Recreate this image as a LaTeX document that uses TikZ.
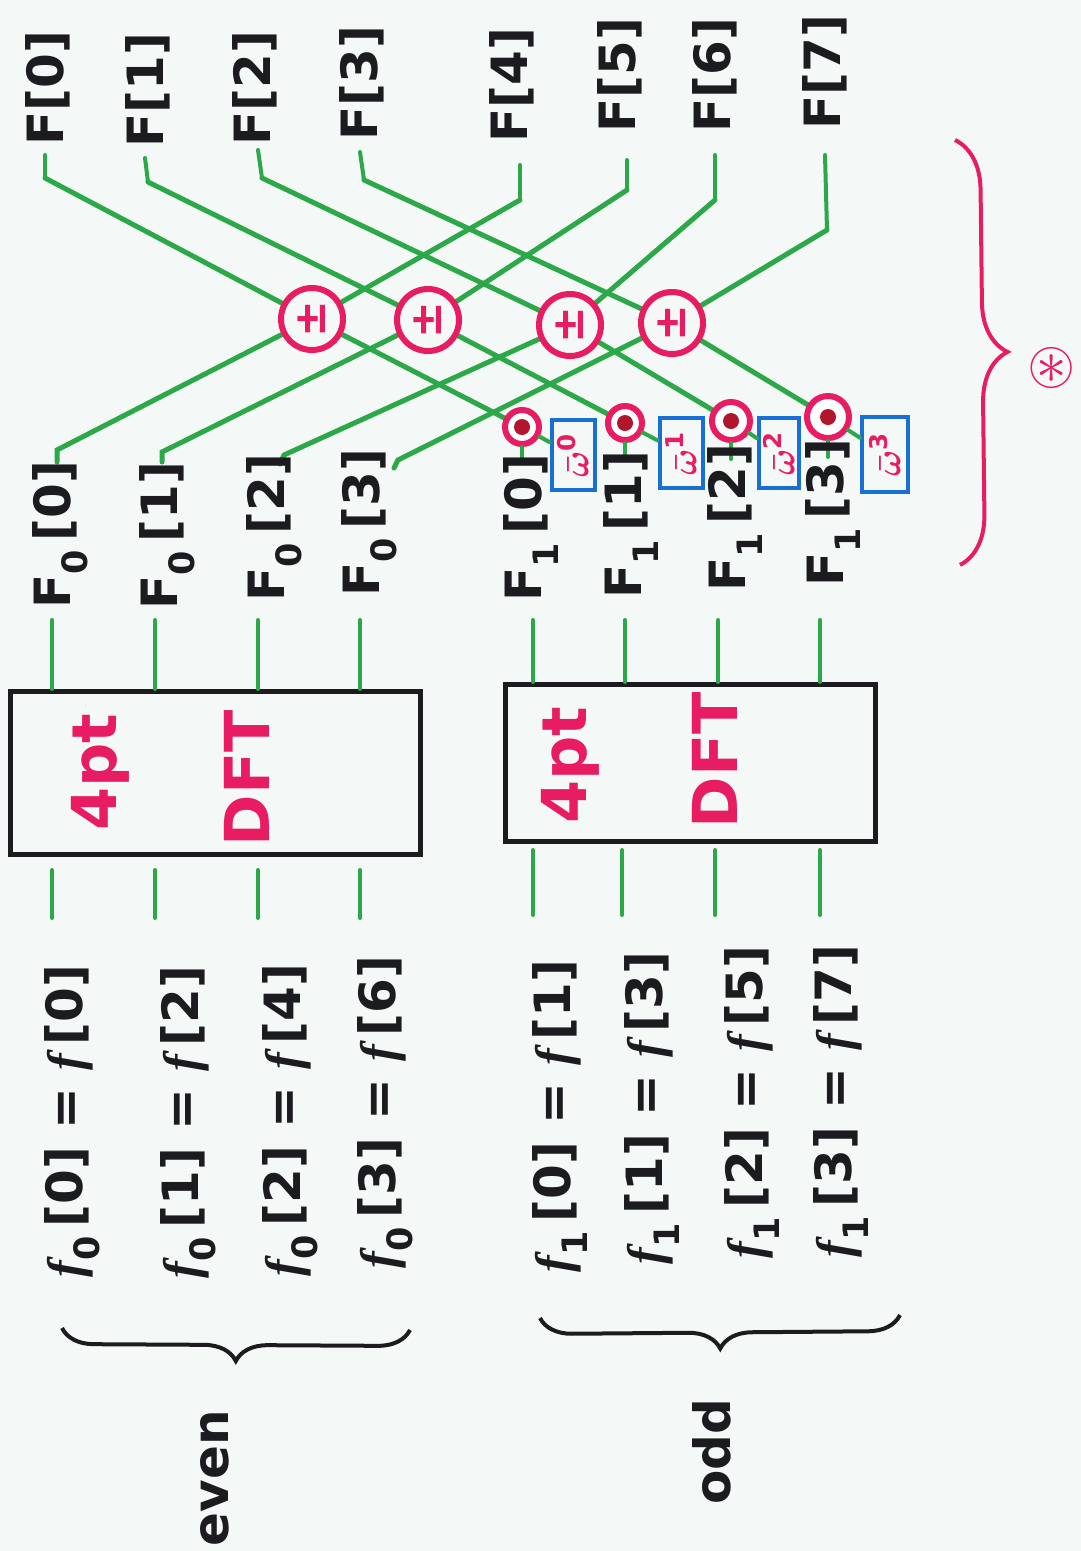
\documentclass[tikz,border=0pt]{standalone}
\usepackage{amssymb}
\usepackage{amsmath}
\usepackage{graphicx}
\usepackage{fontspec}
\setmainfont{DejaVu Sans}
\newfontfamily\fitfont{Liberation Serif}
\usetikzlibrary{decorations.pathreplacing}
\definecolor{bg}{RGB}{244,249,247}
\definecolor{ink}{RGB}{28,28,32}
\definecolor{mgreen}{RGB}{44,168,72}
\definecolor{mpink}{RGB}{232,28,98}
\definecolor{mblue}{RGB}{24,112,212}
\definecolor{mdot}{RGB}{178,22,44}
\newcommand{\ffx}{{\fitfont\bfseries\itshape f}}
\newcommand{\lblsize}{\fontsize{50}{60}\selectfont\bfseries}
\newcommand{\wbar}[1]{\scalebox{3.5}{$\boldsymbol{\bar{\omega}}^{\mathbf{#1}}$}}
\tikzset{
  lbl/.style={rotate=90, font=\lblsize, text=ink, inner sep=0pt},
  gline/.style={draw=mgreen, line width=5pt, line cap=round},
  gstub/.style={draw=mgreen, line width=4pt, line cap=round},
  pmnode/.style={circle, draw=mpink, line width=6pt, fill=bg, minimum size=62pt, inner sep=0pt, rotate=90, text=mpink, font=\fontsize{44}{50}\selectfont\bfseries},
  twnode/.style={circle, draw=mpink, line width=6pt, fill=white, minimum size=34pt, inner sep=0pt},
  wbox/.style={draw=mblue, line width=4pt, rotate=90, minimum width=70pt, minimum height=43pt, inner sep=0pt, text=mpink},
  dftbox/.style={draw=ink, line width=5pt, inner sep=0pt},
  dfttext/.style={rotate=90, text=mpink, font=\fontsize{62}{70}\selectfont\bfseries, inner sep=0pt},
  inklbl/.style={rotate=90, font=\fontsize{50}{60}\selectfont\bfseries, text=ink, inner sep=0pt},
  bbrace/.style={draw=ink, line width=4pt, decorate, decoration={brace, amplitude=32pt, mirror}},
  pbrace/.style={draw=mpink, line width=4pt, decorate, decoration={brace, amplitude=50pt}},
}
\begin{document}
\begin{tikzpicture}[x=1pt,y=-1pt]
\useasboundingbox (0,0) rectangle (1081,1551);
\fill[bg] (0,0) rectangle (1081,1551);

% ---------- output labels F[k]
\node[lbl] (F0) at (48,88) {F[0]};
\node[lbl] (F1) at (148,90) {F[1]};
\node[lbl] (F2) at (255,88) {F[2]};
\node[lbl] (F3) at (362,83) {F[3]};
\node[lbl] (F4) at (512,85) {F[4]};
\node[lbl] (F5) at (620,75) {F[5]};
\node[lbl] (F6) at (715,75) {F[6]};
\node[lbl] (F7) at (825,72) {F[7]};

% stub coordinates under F[k]
\coordinate (sT0) at (45,155);  \coordinate (eT0) at (45,178);
\coordinate (sT1) at (145,158); \coordinate (eT1) at (148,182);
\coordinate (sT2) at (258,150); \coordinate (eT2) at (262,178);
\coordinate (sT3) at (360,152); \coordinate (eT3) at (364,180);
\coordinate (sT4) at (520,165); \coordinate (eT4) at (520,200);
\coordinate (sT5) at (627,160); \coordinate (eT5) at (627,190);
\coordinate (sT6) at (715,155); \coordinate (eT6) at (715,200);
\coordinate (sT7) at (825,155); \coordinate (eT7) at (827,230);

% butterfly centres and twiddle circles
\coordinate (P1c) at (312,319);
\coordinate (P2c) at (428,320);
\coordinate (P3c) at (570,325);
\coordinate (P4c) at (672,323);
\coordinate (T0c) at (522,427);
\coordinate (T1c) at (625,423);
\coordinate (T2c) at (731,421);
\coordinate (T3c) at (828,417);

% ends at F0 labels
\coordinate (eM0) at (57,450);  \coordinate (hM0) at (57,462);
\coordinate (eM1) at (162,452); \coordinate (hM1) at (162,462);
\coordinate (eM2) at (284,455); \coordinate (hM2) at (280,464);
\coordinate (eM3) at (398,460); \coordinate (hM3) at (394,468);

% stubs
\foreach \k in {0,...,7} { \draw[gstub] (sT\k) -- (eT\k); }

% butterfly lines
\draw[gline] (eT0) -- (P1c) -- (T0c);
\draw[gline] (eT4) -- (P1c) -- (eM0) -- (hM0);
\draw[gline] (eT1) -- (P2c) -- (T1c);
\draw[gline] (eT5) -- (P2c) -- (eM1) -- (hM1);
\draw[gline] (eT2) -- (P3c) -- (T2c);
\draw[gline] (eT6) -- (P3c) -- (eM2) -- (hM2);
\draw[gline] (eT3) -- (P4c) -- (T3c);
\draw[gline] (eT7) -- (P4c) -- (eM3) -- (hM3);

% plus-minus circles
\node[pmnode] (P1) at (P1c) {±};
\node[pmnode] (P2) at (P2c) {±};
\node[pmnode] (P3) at (P3c) {±};
\node[pmnode] (P4) at (P4c) {±};

% twiddle boxes
\node[wbox] (W0) at (573,455) {\wbar{0}};
\node[wbox] (W1) at (681,453) {\wbar{1}};
\node[wbox, minimum height=40pt] (W2) at (779,453) {\wbar{2}};
\node[wbox, minimum height=46pt, minimum width=75pt] (W3) at (885,454) {\wbar{3}};

% twiddle circles
\node[twnode] (T0) at (T0c) {};
\node[twnode] (T1) at (T1c) {};
\node[twnode, minimum size=38pt] (T2) at (T2c) {};
\node[twnode, minimum size=42pt] (T3) at (T3c) {};
\foreach \k in {0,...,3} {
  \fill[mdot] (T\k c) circle (8pt);
  \draw[gstub] (T\k.south) -- ++(0,16);
  \draw[gstub] (T\k) -- (W\k);
}

% F0 and F1 labels
\node[lbl] (G0) at (60,535) {F\textsubscript{0}\,[0]};
\node[lbl] (G1) at (167,536) {F\textsubscript{0}\,[1]};
\node[lbl] (G2) at (274,528) {F\textsubscript{0}\,[2]};
\node[lbl] (G3) at (369,523) {F\textsubscript{0}\,[3]};
\node[lbl] (H0) at (531,528) {F\textsubscript{1}\,[0]};
\node[lbl] (H1) at (631,525) {F\textsubscript{1}\,[1]};
\node[lbl] (H2) at (735,518) {F\textsubscript{1}\,[2]};
\node[lbl] (H3) at (833,513) {F\textsubscript{1}\,[3]};

% DFT boxes
\node[dftbox, minimum width=410pt, minimum height=163pt] (B1) at (215,773) {};
\node[dftbox, minimum width=370pt, minimum height=157pt] (B2) at (690,763) {};
\node[dfttext] (B1a) at (100,772) {4pt};
\node[dfttext] (B1b) at (247,778) {DFT};
\node[dfttext] (B2a) at (570,765) {4pt};
\node[dfttext] (B2b) at (715,760) {DFT};

% stubs between labels and boxes
\foreach \x [count=\i from 0] in {52,155,258,360} {
  \coordinate (mA\i) at (\x,620);
  \draw[gstub] (mA\i) -- (mA\i |- B1.north);
  \coordinate (lA\i) at (\x,870);
  \coordinate (kA\i) at (\x,918);
  \draw[gstub] (lA\i) -- (kA\i);
}
\foreach \x [count=\i from 0] in {533,625,718,820} {
  \coordinate (mB\i) at (\x,620);
  \draw[gstub] (mB\i) -- (mB\i |- B2.north);
}
\foreach \x [count=\i from 0] in {533,622,715,820} {
  \coordinate (lB\i) at (\x,850);
  \coordinate (kB\i) at (\x,915);
  \draw[gstub] (lB\i) -- (kB\i);
}

% input labels
\node[inklbl] (I0) at (72,1121) {\ffx\textsubscript{0}\,[0] = \ffx\,[0]};
\node[inklbl] (I1) at (188,1122) {\ffx\textsubscript{0}\,[1] = \ffx\,[2]};
\node[inklbl] (I2) at (290,1120) {\ffx\textsubscript{0}\,[2] = \ffx\,[4]};
\node[inklbl] (I3) at (385,1112) {\ffx\textsubscript{0}\,[3] = \ffx\,[6]};
\node[inklbl] (J0) at (560,1116) {\ffx\textsubscript{1}\,[0] = \ffx\,[1]};
\node[inklbl] (J1) at (652,1108) {\ffx\textsubscript{1}\,[1] = \ffx\,[3]};
\node[inklbl] (J2) at (752,1102) {\ffx\textsubscript{1}\,[2] = \ffx\,[5]};
\node[inklbl] (J3) at (841,1101) {\ffx\textsubscript{1}\,[3] = \ffx\,[7]};

% braces and group labels
\coordinate (be1) at (62,1328);  \coordinate (be2) at (410,1330);
\coordinate (bo1) at (540,1318); \coordinate (bo2) at (900,1315);
\draw[bbrace] (be1) -- (be2);
\draw[bbrace] (bo1) -- (bo2);
\node[inklbl] (even) at (215,1478) {even};
\node[inklbl] (odd) at (712,1452) {odd};

% pink brace and symbol
\coordinate (pb1) at (955,140); \coordinate (pb2) at (960,565);
\draw[pbrace] (pb1) -- (pb2);
\node[text=mpink, inner sep=0pt] (star) at (1052,368) {\scalebox{6.2}{$\boldsymbol{\circledast}$}};
\end{tikzpicture}
\end{document}
